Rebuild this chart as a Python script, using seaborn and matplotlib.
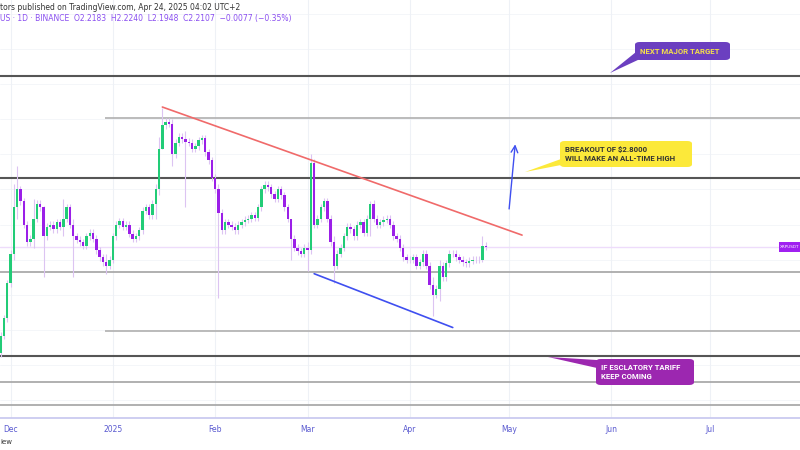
import numpy as np
import pandas as pd
import matplotlib
matplotlib.use("Agg")
import matplotlib.pyplot as plt
import matplotlib.dates as mdates
import seaborn as sns
from matplotlib.patches import FancyBboxPatch, Polygon

start_date = "2024-11-28"
closes = [1.45, 1.60, 1.90, 2.15, 2.55, 2.70, 2.60, 2.40, 2.25, 2.28, 2.45, 2.58, 2.55, 2.30, 2.38, 2.40,
          2.36, 2.42, 2.38, 2.45, 2.55, 2.40, 2.30, 2.27, 2.25, 2.22, 2.30, 2.33, 2.28, 2.18, 2.12, 2.08,
          2.05, 2.10,
          2.30, 2.40, 2.43, 2.38, 2.40, 2.32, 2.28, 2.30, 2.35, 2.52, 2.55, 2.48, 2.58, 2.70, 3.05, 3.25,
          3.28, 3.26, 3.00, 3.10, 3.15, 3.13, 3.11, 3.10, 3.05, 3.07, 3.12, 3.14, 3.02, 2.95, 2.80,
          2.70, 2.50, 2.35, 2.42, 2.40, 2.38, 2.35, 2.40, 2.42, 2.44, 2.45, 2.48, 2.46, 2.55, 2.70, 2.74,
          2.72, 2.66, 2.62, 2.70, 2.65, 2.55, 2.45, 2.28, 2.20, 2.17, 2.15, 2.20,
          2.18, 2.93, 2.40, 2.45, 2.55, 2.60, 2.45, 2.25, 2.05, 2.15, 2.20, 2.30, 2.38, 2.36, 2.30, 2.40,
          2.42, 2.33, 2.45, 2.58, 2.45, 2.40, 2.42, 2.44, 2.45, 2.40, 2.30, 2.28, 2.20, 2.12, 2.10,
          2.10, 2.12, 2.05, 2.08, 2.15, 2.05, 1.88, 1.80, 1.85, 2.05, 1.95, 2.07, 2.15, 2.15, 2.12, 2.10,
          2.08, 2.07, 2.09, 2.10, 2.10, 2.10, 2.22, 2.21]
first_open = 1.30
# notable wick extremes: day index -> (high, low)
wick_extremes = {4: (2.75, 2.10), 5: (2.90, 2.45), 10: (2.62, 2.20), 13: (2.56, 1.95), 19: (2.62, 2.30),
                 22: (2.45, 1.95), 32: (2.15, 1.98), 47: (2.75, 2.45), 48: (3.15, 2.65), 49: (3.40, 3.05),
                 52: (3.30, 2.90), 56: (3.20, 2.55), 66: (2.75, 1.77), 88: (2.45, 2.10), 93: (2.25, 2.00),
                 94: (3.00, 2.15), 101: (2.30, 1.90), 112: (2.60, 2.30), 131: (1.95, 1.62), 133: (2.10, 1.75),
                 146: (2.30, 2.08)}
hlines_dark = [3.67, 2.80, 1.28]
hlines_full = [1.996, 1.05, 0.86]
hlines_partial = [3.31, 1.49]
last_price = 2.21
tick_dates = ["2024-12-01", "2025-01-01", "2025-02-01", "2025-03-01", "2025-04-01",
              "2025-05-01", "2025-06-01", "2025-07-01"]
tick_labels = ["Dec", "2025", "Feb", "Mar", "Apr", "May", "Jun", "Jul"]

dates = pd.date_range(start_date, periods=len(closes), freq="D")
x = mdates.date2num(dates)
opens = [first_open] + closes[:-1]
highs, lows = [], []
for i, (o, c) in enumerate(zip(opens, closes)):
    h, l = wick_extremes.get(i, (max(o, c) + 0.03, min(o, c) - 0.03))
    highs.append(max(h, o, c)); lows.append(min(l, o, c))

sns.set_theme(style="white")
fig = plt.figure(figsize=(8, 4.5), dpi=100)
ax = fig.add_axes([0, 0.071, 1, 0.929])
xmin = mdates.date2num(pd.Timestamp("2024-11-28")) - 0.2
xmax = xmin + 800 / 3.3
ax.set_xlim(xmin, xmax)
ax.set_ylim(0.746, 4.32)
for s in ax.spines.values():
    s.set_visible(False)
ax.spines["bottom"].set_visible(True); ax.spines["bottom"].set_color("#c8c8f0")
ax.set_yticks([])
ax.set_xticks(mdates.date2num(pd.to_datetime(tick_dates)))
ax.set_xticklabels(tick_labels, fontsize=5.5, color="#5a5ad0")
ax.tick_params(axis="x", length=0, pad=5)
ax.grid(True, axis="x", color="#eef1f6", lw=0.8)
for yv in np.arange(0.9, 4.3, 0.3):
    ax.axhline(yv, color="#f3f5f9", lw=0.6, zorder=0)

for yv in hlines_dark:
    ax.axhline(yv, color="#555555", lw=1.5, zorder=1)
for yv in hlines_full:
    ax.axhline(yv, color="#aaaaaa", lw=1.3, zorder=1)
x105 = xmin + 105 / 3.3
for yv in hlines_partial:
    ax.hlines(yv, x105, xmax, color="#b5b5b5", lw=1.3, zorder=1)
ax.axhline(last_price, color="#eedcfb", lw=1, zorder=1)

up = "#22cc77"; down = "#9b1fe8"
colors = [up if c >= o else down for o, c in zip(opens, closes)]
ax.vlines(x, lows, highs, color="#dcc4f2", lw=0.8, zorder=2)
ax.bar(x, np.array(closes) - np.array(opens), bottom=opens, width=0.75, color=colors,
       edgecolor="none", linewidth=0, zorder=3)

red = pd.DataFrame({"d": mdates.date2num(pd.to_datetime(["2025-01-16", "2025-05-05"])), "p": [3.405, 2.31]})
blue = pd.DataFrame({"d": mdates.date2num(pd.to_datetime(["2025-03-03", "2025-04-14"])), "p": [1.98, 1.52]})
sns.lineplot(data=red, x="d", y="p", color="#f06a6a", lw=1.2, ax=ax)
sns.lineplot(data=blue, x="d", y="p", color="#3f4ff0", lw=1.2, ax=ax)
ax.set_xlabel(""); ax.set_ylabel("")
ax.annotate("", xy=(mdates.date2num(pd.Timestamp("2025-05-03")), 3.11),
            xytext=(mdates.date2num(pd.Timestamp("2025-05-01")), 2.51),
            arrowprops=dict(arrowstyle="->", color="#3f4ff0", lw=1))

def px(xp, yp):
    return (xp / 800, (450 - yp) / 450)

def callout(x0, y0, x1, y1, tip, base, fc, tc, text):
    a, b = px(x0, y1), px(x1, y0)
    box = FancyBboxPatch(a, b[0] - a[0], b[1] - a[1], boxstyle="round,pad=0,rounding_size=0.006",
                         transform=fig.transFigure, fc=fc, ec="none", zorder=5)
    fig.add_artist(box)
    poly = Polygon([px(*tip), px(*base[0]), px(*base[1])], closed=True, transform=fig.transFigure,
                   fc=fc, ec="none", zorder=5)
    fig.add_artist(poly)
    fig.text(px(x0 + 5, 0)[0], px(0, (y0 + y1) / 2)[1], text, fontsize=5.6, fontweight="bold",
             family="Roboto", color=tc, va="center", ha="left", zorder=6, linespacing=1.3)

callout(635, 42, 730, 60, (610, 73), [(636, 52), (640, 59)], "#6b3fc0", "#f5e04a", "NEXT MAJOR TARGET")
callout(560, 141, 692, 167, (525, 172), [(561, 159), (561, 165)], "#fce93a", "#333333",
        "BREAKOUT OF $2.8000\nWILL MAKE AN ALL-TIME HIGH")
callout(596, 359, 694, 385, (548, 357), [(597, 360), (597, 368)], "#9c27b0", "#ffffff",
        "IF ESCLATORY TARIFF\nKEEP COMING")

tag = FancyBboxPatch(px(779, 252), 21 / 800, 10 / 450, boxstyle="square,pad=0", transform=fig.transFigure,
                     fc="#a020f0", ec="none", zorder=5)
fig.add_artist(tag)
fig.text(px(780, 0)[0], px(0, 247)[1], "XRPUSDT", fontsize=3, color="white", va="center", zorder=6)

fig.text(0, px(0, 7)[1], "tors published on TradingView.com, Apr 24, 2025 04:02 UTC+2", fontsize=5.5,
         color="#333333", va="center")
fig.text(0, px(0, 19)[1], "US · 1D · BINANCE  O2.2183  H2.2240  L2.1948  C2.2107  −0.0077 (−0.35%)",
         fontsize=5.5, color="#8a4ff0", va="center")
fig.text(0, px(0, 442)[1], "iew", fontsize=5, color="#333333", va="center")

fig.savefig("out.png", dpi=100)
